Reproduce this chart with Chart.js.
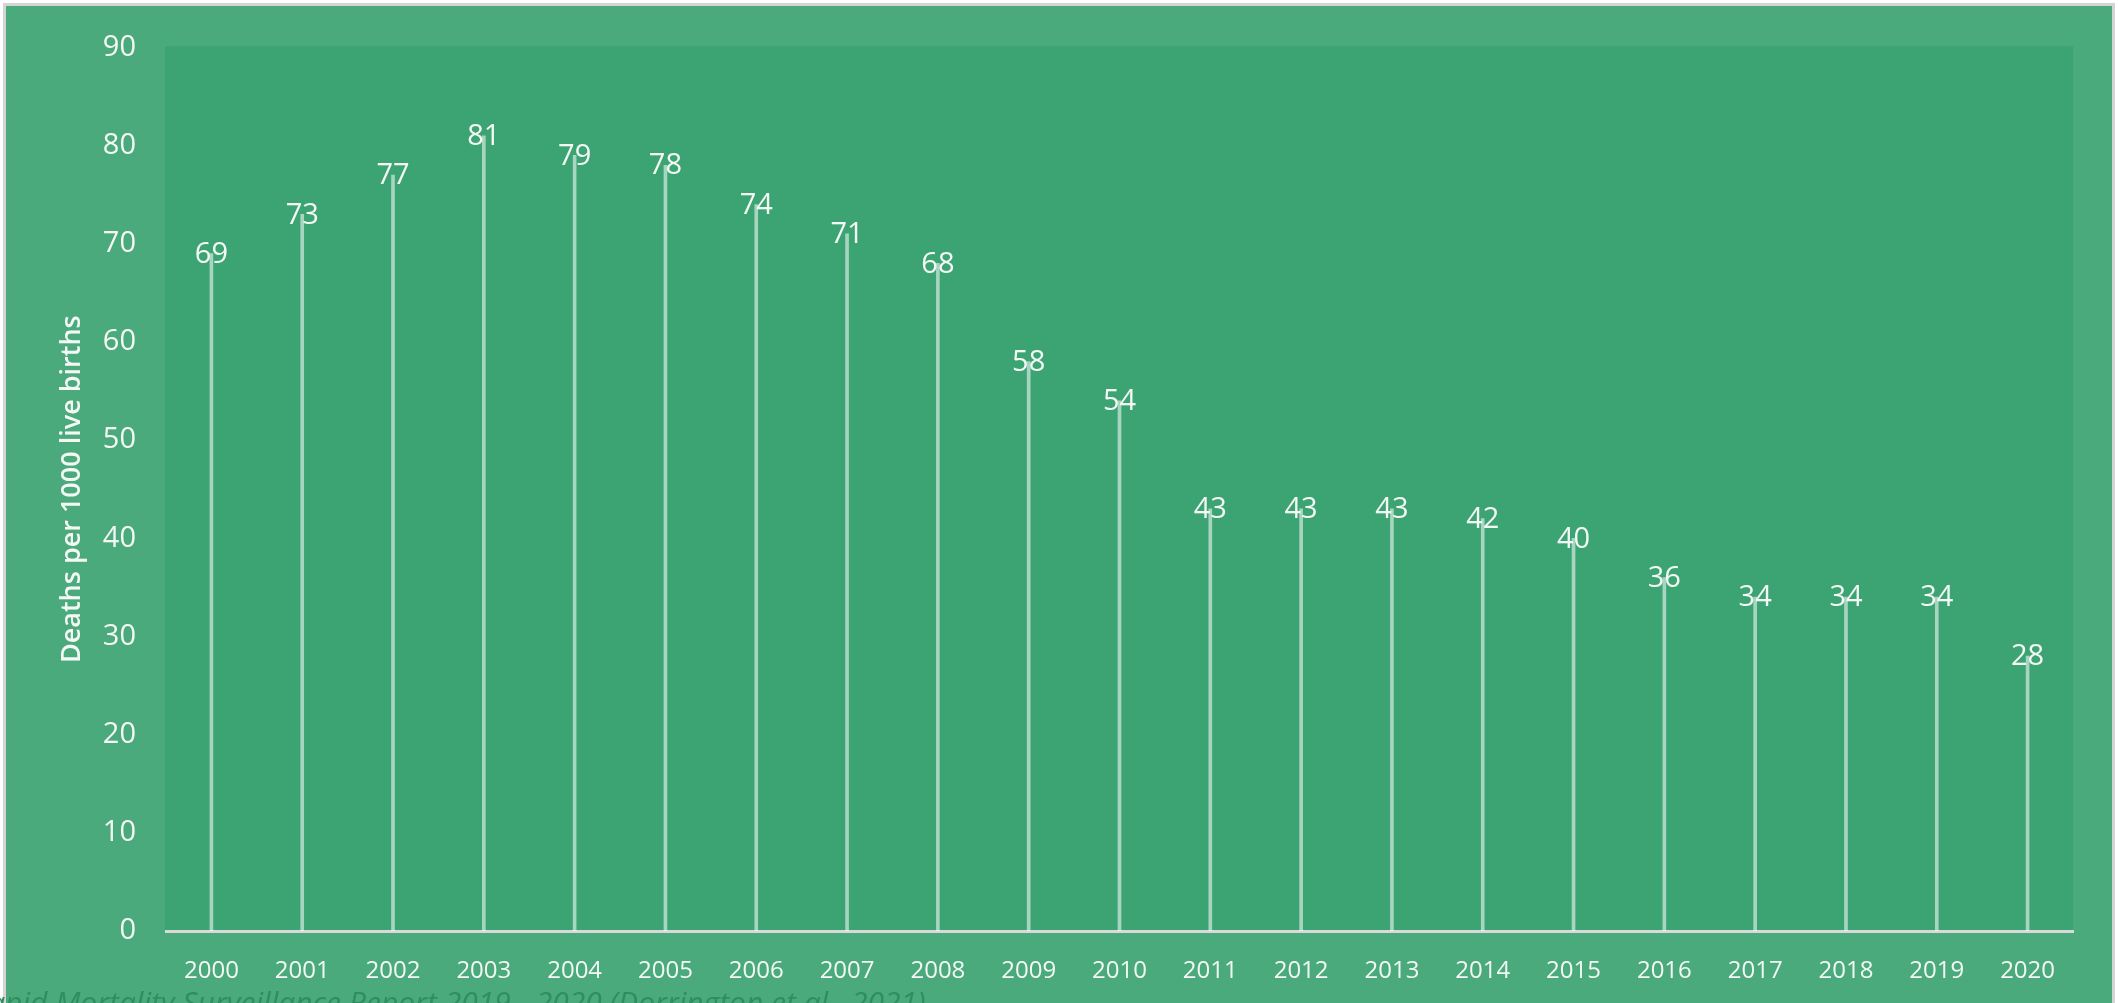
<!DOCTYPE html>
<html>
<head>
<meta charset="utf-8">
<script src="https://cdn.jsdelivr.net/npm/chart.js@4.4.1/dist/chart.umd.min.js"></script>
<style>
  html, body { margin: 0; padding: 0; background: #ffffff; overflow: hidden; }
  #page { position: relative; width: 2118px; height: 1003px; overflow: hidden; }
  #panel {
    position: absolute; left: 3px; top: 3px; width: 2106px; height: 1020px;
    border: 3px solid #d4d4d4; background: #4aaa7b;
  }
  #wrap { position: absolute; left: 0; top: 0; width: 2118px; height: 1003px; }
  #source {
    position: absolute; left: -29px; top: 987px; white-space: nowrap;
    font: italic 30px "Open Sans", sans-serif; color: #2f8d5f; line-height: 1;
  }
</style>
</head>
<body>
<div id="page">
  <div id="panel"></div>
  <div id="wrap"><canvas id="mortalityChart"></canvas></div>
  <div id="source">Rapid Mortality Surveillance Report 2019 - 2020 (Dorrington et al., 2021)</div>
</div>
<script>
// ==========================================================================
// UNDER-5 MORTALITY, DEATHS PER 1000 LIVE BIRTHS, 2000-2020
// ==========================================================================

const years = ['2000', '2001', '2002', '2003', '2004', '2005', '2006', '2007', '2008', '2009',
  '2010', '2011', '2012', '2013', '2014', '2015', '2016', '2017', '2018', '2019', '2020'];
const deathsPer1000 = [69, 73, 77, 81, 79, 78, 74, 71, 68, 58, 54, 43, 43, 43, 42, 40, 36, 34, 34, 34, 28];
const yTicks = [0, 10, 20, 30, 40, 50, 60, 70, 80, 90];

const TEXT_COLOR = '#f4f8f5';
const FONT = '"Open Sans", sans-serif';

// Darker fill behind the plot area
const plotBackground = {
  id: 'plotBackground',
  beforeDraw(chart) {
    const { ctx, chartArea: a } = chart;
    ctx.save();
    ctx.fillStyle = '#3ca373';
    ctx.fillRect(a.left - 1, a.top - 1, a.right - a.left + 1, a.bottom - a.top + 1);
    ctx.restore();
  }
};

// Value printed on top of each stem
const valueLabels = {
  id: 'valueLabels',
  afterDatasetsDraw(chart) {
    const { ctx } = chart;
    const meta = chart.getDatasetMeta(0);
    ctx.save();
    ctx.font = `29px ${FONT}`;
    ctx.fillStyle = TEXT_COLOR;
    ctx.textAlign = 'center';
    ctx.textBaseline = 'middle';
    meta.data.forEach((bar, i) => {
      ctx.fillText(String(deathsPer1000[i]), bar.x, bar.y + 1);
    });
    ctx.restore();
  }
};

const ctx = document.getElementById('mortalityChart').getContext('2d');

new Chart(ctx, {
  type: 'bar',
  data: {
    labels: years,
    datasets: [{
      data: deathsPer1000,
      backgroundColor: 'rgba(255, 255, 255, 0.55)',
      borderWidth: 0,
      barThickness: 3
    }]
  },
  options: {
    responsive: true,
    maintainAspectRatio: false,
    animation: false,
    layout: { padding: { left: 0, top: 46, right: 45, bottom: 0 } },
    plugins: {
      legend: { display: false },
      tooltip: { enabled: false }
    },
    scales: {
      x: {
        grid: { display: false, drawTicks: false },
        border: { display: true, color: '#d9d9d9', width: 3 },
        ticks: { color: TEXT_COLOR, padding: 26, font: { family: FONT, size: 24 }, maxRotation: 0 },
        afterFit(scale) { scale.height = 72; }
      },
      y: {
        min: 0,
        max: 90,
        afterBuildTicks(scale) { scale.ticks = yTicks.map(v => ({ value: v })); },
        grid: { display: false, drawTicks: false },
        border: { display: false },
        ticks: { color: TEXT_COLOR, padding: 30, font: { family: FONT, size: 29 } },
        title: {
          display: true,
          text: 'Deaths per 1000 live births',
          color: TEXT_COLOR,
          font: { family: FONT, size: 27, weight: '600' },
          padding: { top: 56, bottom: 0 }
        },
        afterFit(scale) { scale.width = 166; }
      }
    }
  },
  plugins: [plotBackground, valueLabels]
});
</script>
</body>
</html>
